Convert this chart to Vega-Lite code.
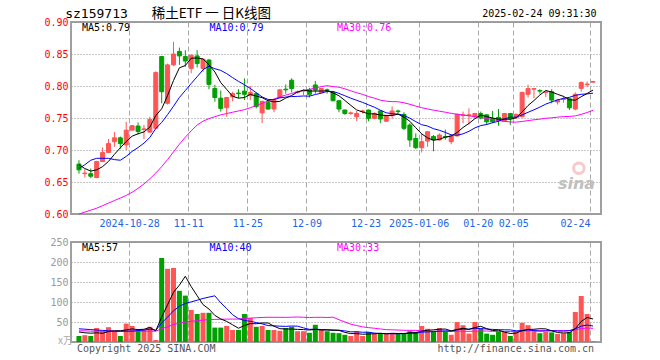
{
  "$schema": "https://vega.github.io/schema/vega-lite/v6.json",
  "background": "white",
  "padding": {"left": 42, "top": 6, "right": 4, "bottom": 4},
  "spacing": 28,
  "bounds": "flush",
  "config": {
    "view": {"stroke": "#a0a0a0", "strokeWidth": 2},
    "font": "DejaVu Sans Mono"
  },
  "datasets": {
    "k": [
      {"i":0,"o":0.678,"h":0.684,"l":0.663,"c":0.669,"v":15,"m5":0.677,"m10":0.671,"m30":0.600,"vm5":25,"vm10":33,"vm30":28},
      {"i":1,"o":0.663,"h":0.670,"l":0.657,"c":0.664,"v":17,"m5":0.671,"m10":0.677,"m30":0.603,"vm5":23,"vm10":32,"vm30":28},
      {"i":2,"o":0.663,"h":0.671,"l":0.656,"c":0.659,"v":15,"m5":0.667,"m10":0.684,"m30":0.606,"vm5":22,"vm10":31,"vm30":27},
      {"i":3,"o":0.657,"h":0.683,"l":0.656,"c":0.682,"v":35,"m5":0.669,"m10":0.687,"m30":0.609,"vm5":23,"vm10":30,"vm30":27},
      {"i":4,"o":0.682,"h":0.704,"l":0.681,"c":0.696,"v":27,"m5":0.674,"m10":0.687,"m30":0.613,"vm5":21.8,"vm10":29,"vm30":27},
      {"i":5,"o":0.696,"h":0.717,"l":0.695,"c":0.710,"v":37,"m5":0.6822,"m10":0.687,"m30":0.617,"vm5":26.2,"vm10":28,"vm30":27},
      {"i":6,"o":0.713,"h":0.728,"l":0.705,"c":0.719,"v":26,"m5":0.6932,"m10":0.685,"m30":0.621,"vm5":28,"vm10":27,"vm30":27},
      {"i":7,"o":0.719,"h":0.721,"l":0.702,"c":0.710,"v":15,"m5":0.7034,"m10":0.684,"m30":0.625,"vm5":28,"vm10":27,"vm30":27},
      {"i":8,"o":0.708,"h":0.744,"l":0.700,"c":0.731,"v":46,"m5":0.7132,"m10":0.690,"m30":0.629,"vm5":30.2,"vm10":27,"vm30":27},
      {"i":9,"o":0.731,"h":0.739,"l":0.731,"c":0.738,"v":40,"m5":0.7216,"m10":0.6978,"m30":0.634,"vm5":32.8,"vm10":27.3,"vm30":27},
      {"i":10,"o":0.7375,"h":0.743,"l":0.724,"c":0.729,"v":28,"m5":0.7254,"m10":0.7038,"m30":0.640,"vm5":31,"vm10":28.6,"vm30":27},
      {"i":11,"o":0.732,"h":0.739,"l":0.717,"c":0.733,"v":30,"m5":0.7282,"m10":0.7107,"m30":0.647,"vm5":31.8,"vm10":29.9,"vm30":27},
      {"i":12,"o":0.728,"h":0.752,"l":0.727,"c":0.748,"v":38,"m5":0.7358,"m10":0.7196,"m30":0.655,"vm5":36.4,"vm10":32.2,"vm30":27},
      {"i":13,"o":0.734,"h":0.823,"l":0.733,"c":0.821,"v":5,"m5":0.7538,"m10":0.7335,"m30":0.664,"vm5":28.2,"vm10":29.2,"vm30":27},
      {"i":14,"o":0.846,"h":0.846,"l":0.773,"c":0.791,"v":210,"m5":0.7644,"m10":0.743,"m30":0.674,"vm5":62.2,"vm10":47.5,"vm30":33},
      {"i":15,"o":0.773,"h":0.835,"l":0.771,"c":0.833,"v":183,"m5":0.7852,"m10":0.7553,"m30":0.685,"vm5":93.2,"vm10":62.1,"vm30":38.3},
      {"i":16,"o":0.833,"h":0.869,"l":0.831,"c":0.850,"v":185,"m5":0.8086,"m10":0.7684,"m30":0.697,"vm5":124.2,"vm10":78,"vm30":43.6},
      {"i":17,"o":0.854,"h":0.860,"l":0.833,"c":0.847,"v":128,"m5":0.8284,"m10":0.7821,"m30":0.709,"vm5":142.2,"vm10":89.3,"vm30":47},
      {"i":18,"o":0.846,"h":0.856,"l":0.830,"c":0.839,"v":116,"m5":0.832,"m10":0.7929,"m30":0.720,"vm5":164.4,"vm10":96.3,"vm30":50},
      {"i":19,"o":0.8275,"h":0.849,"l":0.820,"c":0.848,"v":80,"m5":0.8434,"m10":0.8039,"m30":0.730,"vm5":138.4,"vm10":100.3,"vm30":51.8},
      {"i":20,"o":0.847,"h":0.856,"l":0.829,"c":0.835,"v":70,"m5":0.8438,"m10":0.8145,"m30":0.739,"vm5":115.8,"vm10":104.5,"vm30":53.2},
      {"i":21,"o":0.8275,"h":0.843,"l":0.822,"c":0.842,"v":73,"m5":0.8422,"m10":0.8254,"m30":0.745,"vm5":93.4,"vm10":108.8,"vm30":54.7},
      {"i":22,"o":0.8406,"h":0.842,"l":0.795,"c":0.8025,"v":73,"m5":0.8333,"m10":0.8309,"m30":0.749,"vm5":82.4,"vm10":112.3,"vm30":56.2},
      {"i":23,"o":0.796,"h":0.802,"l":0.7755,"c":0.782,"v":36,"m5":0.8219,"m10":0.827,"m30":0.752,"vm5":66.4,"vm10":115.4,"vm30":56.5},
      {"i":24,"o":0.781,"h":0.793,"l":0.760,"c":0.765,"v":36,"m5":0.8053,"m10":0.8244,"m30":0.755,"vm5":57.6,"vm10":98,"vm30":56.8},
      {"i":25,"o":0.766,"h":0.783,"l":0.752,"c":0.782,"v":40,"m5":0.7947,"m10":0.8193,"m30":0.757,"vm5":51.6,"vm10":83.7,"vm30":57.2},
      {"i":26,"o":0.783,"h":0.791,"l":0.776,"c":0.788,"v":30,"m5":0.7839,"m10":0.8131,"m30":0.759,"vm5":43,"vm10":68.2,"vm30":57.3},
      {"i":27,"o":0.789,"h":0.795,"l":0.781,"c":0.788,"v":30,"m5":0.781,"m10":0.8072,"m30":0.761,"vm5":34.4,"vm10":58.4,"vm30":57.4},
      {"i":28,"o":0.792,"h":0.812,"l":0.778,"c":0.787,"v":70,"m5":0.782,"m10":0.802,"m30":0.763,"vm5":41.2,"vm10":53.8,"vm30":58.8},
      {"i":29,"o":0.785,"h":0.800,"l":0.778,"c":0.790,"v":60,"m5":0.787,"m10":0.7962,"m30":0.766,"vm5":46,"vm10":51.8,"vm30":59.8},
      {"i":30,"o":0.788,"h":0.790,"l":0.765,"c":0.768,"v":38,"m5":0.7842,"m10":0.7895,"m30":0.7693,"vm5":45.6,"vm10":48.6,"vm30":60.6},
      {"i":31,"o":0.758,"h":0.777,"l":0.742,"c":0.776,"v":40,"m5":0.7818,"m10":0.7829,"m30":0.773,"vm5":47.6,"vm10":45.3,"vm30":61.3},
      {"i":32,"o":0.774,"h":0.777,"l":0.763,"c":0.764,"v":30,"m5":0.777,"m10":0.779,"m30":0.7765,"vm5":47.6,"vm10":41,"vm30":61.8},
      {"i":33,"o":0.764,"h":0.779,"l":0.759,"c":0.778,"v":30,"m5":0.7752,"m10":0.7786,"m30":0.7797,"vm5":39.6,"vm10":40.4,"vm30":61.7},
      {"i":34,"o":0.782,"h":0.795,"l":0.781,"c":0.794,"v":28,"m5":0.776,"m10":0.7815,"m30":0.783,"vm5":33.2,"vm10":39.6,"vm30":61.7},
      {"i":35,"o":0.795,"h":0.8025,"l":0.788,"c":0.794,"v":35,"m5":0.7812,"m10":0.7827,"m30":0.7858,"vm5":32.6,"vm10":39.1,"vm30":61.6},
      {"i":36,"o":0.809,"h":0.812,"l":0.790,"c":0.796,"v":38,"m5":0.7852,"m10":0.7835,"m30":0.7883,"vm5":32.2,"vm10":39.9,"vm30":62},
      {"i":37,"o":0.790,"h":0.793,"l":0.788,"c":0.791,"v":27,"m5":0.7906,"m10":0.7838,"m30":0.791,"vm5":31.6,"vm10":39.6,"vm30":62.4},
      {"i":38,"o":0.792,"h":0.795,"l":0.786,"c":0.793,"v":27,"m5":0.7936,"m10":0.7844,"m30":0.7931,"vm5":31,"vm10":35.3,"vm30":61.8},
      {"i":39,"o":0.794,"h":0.797,"l":0.782,"c":0.787,"v":23,"m5":0.7922,"m10":0.7841,"m30":0.7947,"vm5":30,"vm10":31.6,"vm30":61.2},
      {"i":40,"o":0.8016,"h":0.808,"l":0.788,"c":0.7937,"v":43,"m5":0.7921,"m10":0.7867,"m30":0.7969,"vm5":31.6,"vm10":32.1,"vm30":61.7},
      {"i":41,"o":0.790,"h":0.797,"l":0.789,"c":0.796,"v":30,"m5":0.7921,"m10":0.7887,"m30":0.799,"vm5":30,"vm10":31.1,"vm30":61.7},
      {"i":42,"o":0.794,"h":0.796,"l":0.788,"c":0.793,"v":27,"m5":0.7925,"m10":0.7916,"m30":0.8005,"vm5":30,"vm10":30.8,"vm30":61.4},
      {"i":43,"o":0.790,"h":0.791,"l":0.776,"c":0.777,"v":23,"m5":0.7893,"m10":0.7915,"m30":0.799,"vm5":29.2,"vm10":30.1,"vm30":62},
      {"i":44,"o":0.777,"h":0.778,"l":0.759,"c":0.764,"v":22,"m5":0.7847,"m10":0.7885,"m30":0.7981,"vm5":29,"vm10":29.5,"vm30":55.7},
      {"i":45,"o":0.7625,"h":0.763,"l":0.755,"c":0.757,"v":18,"m5":0.7774,"m10":0.7848,"m30":0.7956,"vm5":24,"vm10":27.8,"vm30":50.2},
      {"i":46,"o":0.757,"h":0.760,"l":0.755,"c":0.758,"v":15,"m5":0.7698,"m10":0.781,"m30":0.7925,"vm5":21,"vm10":25.5,"vm30":44.5},
      {"i":47,"o":0.752,"h":0.761,"l":0.745,"c":0.757,"v":27,"m5":0.7626,"m10":0.7776,"m30":0.7895,"vm5":21,"vm10":25.5,"vm30":41.2},
      {"i":48,"o":0.760,"h":0.763,"l":0.757,"c":0.761,"v":15,"m5":0.7594,"m10":0.7744,"m30":0.7869,"vm5":19.4,"vm10":24.3,"vm30":37.8},
      {"i":49,"o":0.7625,"h":0.763,"l":0.745,"c":0.7494,"v":25,"m5":0.7565,"m10":0.7706,"m30":0.7836,"vm5":20,"vm10":24.5,"vm30":36},
      {"i":50,"o":0.7494,"h":0.759,"l":0.748,"c":0.757,"v":21,"m5":0.7565,"m10":0.7669,"m30":0.781,"vm5":20.6,"vm10":22.3,"vm30":34.3},
      {"i":51,"o":0.761,"h":0.762,"l":0.742,"c":0.7484,"v":21,"m5":0.7546,"m10":0.7622,"m30":0.7779,"vm5":21.8,"vm10":21.4,"vm30":32.6},
      {"i":52,"o":0.745,"h":0.755,"l":0.744,"c":0.7536,"v":21,"m5":0.7539,"m10":0.7582,"m30":0.7763,"vm5":20.6,"vm10":20.8,"vm30":30.9},
      {"i":53,"o":0.7547,"h":0.768,"l":0.749,"c":0.761,"v":21,"m5":0.7539,"m10":0.7566,"m30":0.7756,"vm5":21.8,"vm10":20.6,"vm30":30.4},
      {"i":54,"o":0.761,"h":0.763,"l":0.757,"c":0.760,"v":22,"m5":0.756,"m10":0.7562,"m30":0.7754,"vm5":21.2,"vm10":20.6,"vm30":29.9},
      {"i":55,"o":0.7556,"h":0.759,"l":0.731,"c":0.7338,"v":22,"m5":0.7514,"m10":0.7539,"m30":0.7738,"vm5":21.4,"vm10":21,"vm30":29.3},
      {"i":56,"o":0.739,"h":0.742,"l":0.705,"c":0.7156,"v":27,"m5":0.7448,"m10":0.7497,"m30":0.7714,"vm5":22.6,"vm10":22.2,"vm30":29.2},
      {"i":57,"o":0.718,"h":0.726,"l":0.7016,"c":0.7036,"v":25,"m5":0.7348,"m10":0.7443,"m30":0.7686,"vm5":23.4,"vm10":22,"vm30":29},
      {"i":58,"o":0.7036,"h":0.726,"l":0.696,"c":0.713,"v":40,"m5":0.7252,"m10":0.7395,"m30":0.7661,"vm5":27.2,"vm10":24.5,"vm30":28},
      {"i":59,"o":0.714,"h":0.729,"l":0.705,"c":0.7286,"v":33,"m5":0.7189,"m10":0.7375,"m30":0.7641,"vm5":29.4,"vm10":25.3,"vm30":27.1},
      {"i":60,"o":0.721,"h":0.7234,"l":0.698,"c":0.7156,"v":27,"m5":0.7153,"m10":0.7333,"m30":0.7623,"vm5":30.4,"vm10":25.9,"vm30":26.8},
      {"i":61,"o":0.7156,"h":0.726,"l":0.715,"c":0.7234,"v":35,"m5":0.7168,"m10":0.7308,"m30":0.7606,"vm5":32,"vm10":27.3,"vm30":26.6},
      {"i":62,"o":0.721,"h":0.732,"l":0.716,"c":0.720,"v":27,"m5":0.7201,"m10":0.7275,"m30":0.7591,"vm5":32.4,"vm10":27.9,"vm30":26.5},
      {"i":63,"o":0.713,"h":0.7245,"l":0.709,"c":0.722,"v":18,"m5":0.7219,"m10":0.7236,"m30":0.7572,"vm5":28,"vm10":27.6,"vm30":26.1},
      {"i":64,"o":0.722,"h":0.757,"l":0.721,"c":0.7556,"v":50,"m5":0.7273,"m10":0.7231,"m30":0.7559,"vm5":31.4,"vm10":30.4,"vm30":26.8},
      {"i":65,"o":0.754,"h":0.760,"l":0.742,"c":0.755,"v":42,"m5":0.7352,"m10":0.7252,"m30":0.7546,"vm5":34.4,"vm10":32.4,"vm30":27.1},
      {"i":66,"o":0.754,"h":0.765,"l":0.740,"c":0.755,"v":21,"m5":0.7415,"m10":0.7292,"m30":0.7533,"vm5":31.6,"vm10":31.8,"vm30":26.5},
      {"i":67,"o":0.752,"h":0.758,"l":0.750,"c":0.757,"v":50,"m5":0.7489,"m10":0.7345,"m30":0.7521,"vm5":36.2,"vm10":34.3,"vm30":27.3},
      {"i":68,"o":0.757,"h":0.760,"l":0.748,"c":0.750,"v":33,"m5":0.7545,"m10":0.7382,"m30":0.7507,"vm5":39.2,"vm10":33.6,"vm30":27.5},
      {"i":69,"o":0.755,"h":0.7555,"l":0.739,"c":0.744,"v":21,"m5":0.7522,"m10":0.7398,"m30":0.7493,"vm5":33.4,"vm10":32.4,"vm30":27.4},
      {"i":70,"o":0.749,"h":0.761,"l":0.742,"c":0.744,"v":18,"m5":0.75,"m10":0.7426,"m30":0.7476,"vm5":28.6,"vm10":31.5,"vm30":26.6},
      {"i":71,"o":0.751,"h":0.764,"l":0.738,"c":0.746,"v":27,"m5":0.7482,"m10":0.7449,"m30":0.746,"vm5":29.8,"vm10":30.7,"vm30":26.5},
      {"i":72,"o":0.745,"h":0.758,"l":0.744,"c":0.757,"v":25,"m5":0.7482,"m10":0.7486,"m30":0.7448,"vm5":24.8,"vm10":30.5,"vm30":26.4},
      {"i":73,"o":0.757,"h":0.758,"l":0.739,"c":0.749,"v":15,"m5":0.748,"m10":0.7513,"m30":0.7438,"vm5":21.2,"vm10":30.2,"vm30":26.1},
      {"i":74,"o":0.7505,"h":0.757,"l":0.749,"c":0.7556,"v":27,"m5":0.7503,"m10":0.7513,"m30":0.7435,"vm5":22.4,"vm10":27.9,"vm30":26.3},
      {"i":75,"o":0.752,"h":0.791,"l":0.751,"c":0.790,"v":48,"m5":0.7595,"m10":0.7548,"m30":0.7446,"vm5":28.4,"vm10":28.5,"vm30":27.3},
      {"i":76,"o":0.787,"h":0.802,"l":0.782,"c":0.796,"v":42,"m5":0.7695,"m10":0.7589,"m30":0.7459,"vm5":31.4,"vm10":30.6,"vm30":28.2},
      {"i":77,"o":0.795,"h":0.797,"l":0.781,"c":0.796,"v":27,"m5":0.7773,"m10":0.7628,"m30":0.7472,"vm5":31.8,"vm10":28.3,"vm30":28.2},
      {"i":78,"o":0.793,"h":0.795,"l":0.788,"c":0.792,"v":22,"m5":0.7859,"m10":0.767,"m30":0.7482,"vm5":33.2,"vm10":27.2,"vm30":28.4},
      {"i":79,"o":0.790,"h":0.7915,"l":0.783,"c":0.791,"v":25,"m5":0.793,"m10":0.7717,"m30":0.7496,"vm5":32.8,"vm10":27.6,"vm30":28.4},
      {"i":80,"o":0.791,"h":0.795,"l":0.773,"c":0.778,"v":24,"m5":0.7906,"m10":0.7751,"m30":0.7503,"vm5":28,"vm10":28.2,"vm30":28.5},
      {"i":81,"o":0.775,"h":0.780,"l":0.771,"c":0.778,"v":20,"m5":0.787,"m10":0.7783,"m30":0.7513,"vm5":23.6,"vm10":27.5,"vm30":28.5},
      {"i":82,"o":0.779,"h":0.784,"l":0.774,"c":0.780,"v":22,"m5":0.7838,"m10":0.7806,"m30":0.7522,"vm5":22.6,"vm10":27.2,"vm30":28.5},
      {"i":83,"o":0.780,"h":0.7815,"l":0.7625,"c":0.766,"v":25,"m5":0.7786,"m10":0.7823,"m30":0.7524,"vm5":23.2,"vm10":28.2,"vm30":28.7},
      {"i":84,"o":0.764,"h":0.790,"l":0.762,"c":0.787,"v":75,"m5":0.7778,"m10":0.7854,"m30":0.7533,"vm5":33.2,"vm10":33,"vm30":30.4},
      {"i":85,"o":0.7963,"h":0.807,"l":0.791,"c":0.8056,"v":115,"m5":0.7833,"m10":0.787,"m30":0.7557,"vm5":51.4,"vm10":39.7,"vm30":33.5},
      {"i":86,"o":0.802,"h":0.807,"l":0.798,"c":0.803,"v":70,"m5":0.7883,"m10":0.7877,"m30":0.7586,"vm5":61.4,"vm10":42.5,"vm30":35},
      {"i":87,"o":0.806,"h":0.808,"l":0.805,"c":0.807,"v":2.5,"m5":0.7937,"m10":0.7888,"m30":0.762,"vm5":57.5,"vm10":40,"vm30":34.2}
    ]
  },
  "vconcat": [
    {
      "width": 530,
      "height": 192,
      "data": {"name": "k"},
      "encoding": {
        "x": {
          "field": "i", "type": "quantitative",
          "scale": {"domain": [-0.5, 87.5], "nice": false, "zero": false},
          "axis": {
            "title": null,
            "values": [8.5, 18.5, 28.5, 38.5, 48.5, 57.5, 67.5, 73.5, 86.5],
            "labelExpr": "datum.value == 8.5 ? '2024-10-28' : datum.value == 18.5 ? '11-11' : datum.value == 28.5 ? '11-25' : datum.value == 38.5 ? '12-09' : datum.value == 48.5 ? '12-23' : datum.value == 57.5 ? '2025-01-06' : datum.value == 67.5 ? '01-20' : datum.value == 73.5 ? '02-05' : '02-24'",
            "labelAlign": {"condition": {"test": "datum.value > 80", "value": "right"}, "value": "center"},
            "labelFont": "DejaVu Sans Mono", "labelFontSize": 10, "labelColor": "#1e64e6",
            "labelPadding": 4, "labelOverlap": false, "labelFlush": false, "labelBound": false,
            "domain": false, "ticks": false, "tickSize": 0,
            "grid": true, "gridDash": [5, 3], "gridColor": "#a8a8a8", "gridOpacity": 1, "gridWidth": 1
          }
        }
      },
      "layer": [
        {
          "mark": {"type": "rule", "strokeWidth": 1},
          "encoding": {
            "y": {
              "field": "l", "type": "quantitative",
              "scale": {"domain": [0.6, 0.9], "nice": false, "zero": false},
              "axis": {
                "title": null,
                "tickCount": 7,
                "format": ".2f",
                "labelFont": "DejaVu Sans Mono", "labelFontSize": 10, "labelColor": "#ff0000",
                "labelPadding": 3, "labelFlush": false, "labelOverlap": false, "labelSeparation": 0,
                "domain": false, "ticks": false, "tickSize": 0,
                "grid": true, "gridDash": [1, 2], "gridColor": "#909090", "gridOpacity": 1, "gridWidth": 1
              }
            },
            "y2": {"field": "h"},
            "stroke": {"condition": {"test": "datum.c >= datum.o", "value": "#ff5555"}, "value": "#00a000"}
          }
        },
        {
          "mark": {"type": "bar", "size": 4, "strokeWidth": 1},
          "encoding": {
            "y": {"field": "o", "type": "quantitative", "scale": {"domain": [0.6, 0.9], "nice": false, "zero": false}},
            "y2": {"field": "c"},
            "fill": {"condition": {"test": "datum.c >= datum.o", "value": "#ff5555"}, "value": "#00a000"},
            "stroke": {"condition": {"test": "datum.c >= datum.o", "value": "#ff5555"}, "value": "#00a000"}
          }
        },
        {
          "mark": {"type": "line", "strokeWidth": 1, "color": "#ff00ff"},
          "encoding": {"y": {"field": "m30", "type": "quantitative", "scale": {"domain": [0.6, 0.9], "nice": false, "zero": false}}}
        },
        {
          "mark": {"type": "line", "strokeWidth": 1, "color": "#0000ff"},
          "encoding": {"y": {"field": "m10", "type": "quantitative", "scale": {"domain": [0.6, 0.9], "nice": false, "zero": false}}}
        },
        {
          "mark": {"type": "line", "strokeWidth": 1, "color": "#000000"},
          "encoding": {"y": {"field": "m5", "type": "quantitative", "scale": {"domain": [0.6, 0.9], "nice": false, "zero": false}}}
        },
        {
          "transform": [{"filter": "datum.i == 87"}],
          "mark": {"type": "text", "align": "left", "baseline": "middle", "font": "DejaVu Sans Mono", "fontSize": 10, "color": "#000000"},
          "encoding": {"x": {"datum": 0.5, "type": "quantitative"}, "y": {"datum": 0.891, "type": "quantitative"}, "text": {"value": "MA5:0.79"}}
        },
        {
          "transform": [{"filter": "datum.i == 87"}],
          "mark": {"type": "text", "align": "left", "baseline": "middle", "font": "DejaVu Sans Mono", "fontSize": 10, "color": "#0000ff"},
          "encoding": {"x": {"datum": 22.08, "type": "quantitative"}, "y": {"datum": 0.891, "type": "quantitative"}, "text": {"value": "MA10:0.79"}}
        },
        {
          "transform": [{"filter": "datum.i == 87"}],
          "mark": {"type": "text", "align": "left", "baseline": "middle", "font": "DejaVu Sans Mono", "fontSize": 10, "color": "#ff00ff"},
          "encoding": {"x": {"datum": 43.67, "type": "quantitative"}, "y": {"datum": 0.891, "type": "quantitative"}, "text": {"value": "MA30:0.76"}}
        },
        {
          "transform": [{"filter": "datum.i == 87"}],
          "mark": {"type": "text", "align": "left", "baseline": "middle", "font": "DejaVu Sans Mono", "fontSize": 13, "color": "#000000"},
          "encoding": {"x": {"datum": -2.33, "type": "quantitative"}, "y": {"datum": 0.9122, "type": "quantitative"}, "text": {"value": "sz159713"}}
        },
        {
          "transform": [{"filter": "datum.i == 87"}],
          "mark": {"type": "text", "align": "left", "baseline": "middle", "font": "Noto Sans CJK SC", "fontSize": 13.5, "color": "#000000"},
          "encoding": {"x": {"datum": 12.3, "type": "quantitative"}, "y": {"datum": 0.9122, "type": "quantitative"}, "text": {"value": "稀土ETF 一 日K线图"}}
        },
        {
          "transform": [{"filter": "datum.i == 87"}],
          "mark": {"type": "text", "align": "left", "baseline": "middle", "font": "DejaVu Sans Mono", "fontSize": 10, "color": "#000000"},
          "encoding": {"x": {"datum": 68.24, "type": "quantitative"}, "y": {"datum": 0.9122, "type": "quantitative"}, "text": {"value": "2025-02-24 09:31:30"}}
        },
        {
          "transform": [{"filter": "datum.i == 87"}],
          "mark": {"type": "point", "shape": "circle", "size": 110, "filled": false, "strokeWidth": 3, "color": "#f2b4b4"},
          "encoding": {"x": {"datum": 84.6, "type": "quantitative"}, "y": {"datum": 0.6715, "type": "quantitative"}}
        },
        {
          "transform": [{"filter": "datum.i == 87"}],
          "mark": {"type": "text", "align": "center", "baseline": "middle", "font": "DejaVu Sans", "fontSize": 16, "fontStyle": "italic", "fontWeight": "bold", "color": "#c0c0c0"},
          "encoding": {"x": {"datum": 84.2, "type": "quantitative"}, "y": {"datum": 0.6473, "type": "quantitative"}, "text": {"value": "sina"}}
        }
      ]
    },
    {
      "width": 530,
      "height": 100,
      "data": {"name": "k"},
      "encoding": {
        "x": {
          "field": "i", "type": "quantitative",
          "scale": {"domain": [-0.5, 87.5], "nice": false, "zero": false},
          "axis": {
            "title": null,
            "values": [8.5, 18.5, 28.5, 38.5, 48.5, 57.5, 67.5, 73.5, 86.5],
            "labels": false, "domain": false, "ticks": false, "tickSize": 0,
            "grid": true, "gridDash": [5, 3], "gridColor": "#a8a8a8", "gridOpacity": 1, "gridWidth": 1
          }
        }
      },
      "layer": [
        {
          "mark": {"type": "bar", "size": 5},
          "encoding": {
            "y": {
              "field": "v", "type": "quantitative",
              "scale": {"domain": [0, 250], "nice": false},
              "axis": {
                "title": null,
                "tickCount": 5,
                "labelExpr": "datum.value == 0 ? '' : datum.label",
                "labelFont": "DejaVu Sans Mono", "labelFontSize": 10, "labelColor": "#999999",
                "labelPadding": 3, "labelFlush": false, "labelOverlap": false, "labelSeparation": 0,
                "domain": false, "ticks": false, "tickSize": 0,
                "grid": true, "gridDash": [1, 2], "gridColor": "#909090", "gridOpacity": 1, "gridWidth": 1
              }
            },
            "fill": {"condition": {"test": "datum.c >= datum.o", "value": "#ff5555"}, "value": "#00a000"}
          }
        },
        {
          "mark": {"type": "line", "strokeWidth": 1, "color": "#ff00ff"},
          "encoding": {"y": {"field": "vm30", "type": "quantitative", "scale": {"domain": [0, 250], "nice": false}}}
        },
        {
          "mark": {"type": "line", "strokeWidth": 1, "color": "#0000ff"},
          "encoding": {"y": {"field": "vm10", "type": "quantitative", "scale": {"domain": [0, 250], "nice": false}}}
        },
        {
          "mark": {"type": "line", "strokeWidth": 1, "color": "#000000"},
          "encoding": {"y": {"field": "vm5", "type": "quantitative", "scale": {"domain": [0, 250], "nice": false}}}
        },
        {
          "transform": [{"filter": "datum.i == 87"}],
          "mark": {"type": "text", "align": "left", "baseline": "middle", "font": "DejaVu Sans Mono", "fontSize": 10, "color": "#000000"},
          "encoding": {"x": {"datum": 0.5, "type": "quantitative"}, "y": {"datum": 235, "type": "quantitative"}, "text": {"value": "MA5:57"}}
        },
        {
          "transform": [{"filter": "datum.i == 87"}],
          "mark": {"type": "text", "align": "left", "baseline": "middle", "font": "DejaVu Sans Mono", "fontSize": 10, "color": "#0000ff"},
          "encoding": {"x": {"datum": 22.08, "type": "quantitative"}, "y": {"datum": 235, "type": "quantitative"}, "text": {"value": "MA10:40"}}
        },
        {
          "transform": [{"filter": "datum.i == 87"}],
          "mark": {"type": "text", "align": "left", "baseline": "middle", "font": "DejaVu Sans Mono", "fontSize": 10, "color": "#ff00ff"},
          "encoding": {"x": {"datum": 43.67, "type": "quantitative"}, "y": {"datum": 235, "type": "quantitative"}, "text": {"value": "MA30:33"}}
        },
        {
          "transform": [{"filter": "datum.i == 87"}],
          "mark": {"type": "text", "align": "right", "baseline": "middle", "font": "Noto Sans CJK SC", "fontSize": 10, "color": "#aaaaaa"},
          "encoding": {"x": {"datum": -1.0, "type": "quantitative"}, "y": {"datum": 3, "type": "quantitative"}, "text": {"value": "x万"}}
        },
        {
          "transform": [{"filter": "datum.i == 87"}],
          "mark": {"type": "text", "align": "left", "baseline": "middle", "font": "DejaVu Sans Mono", "fontSize": 10, "color": "#555555"},
          "encoding": {"x": {"datum": -0.33, "type": "quantitative"}, "y": {"datum": -17.5, "type": "quantitative"}, "text": {"value": "Copyright 2025 SINA.COM"}}
        },
        {
          "transform": [{"filter": "datum.i == 87"}],
          "mark": {"type": "text", "align": "right", "baseline": "middle", "font": "DejaVu Sans Mono", "fontSize": 10, "color": "#555555"},
          "encoding": {"x": {"datum": 87.17, "type": "quantitative"}, "y": {"datum": -17.5, "type": "quantitative"}, "text": {"value": "http://finance.sina.com.cn"}}
        }
      ]
    }
  ]
}
